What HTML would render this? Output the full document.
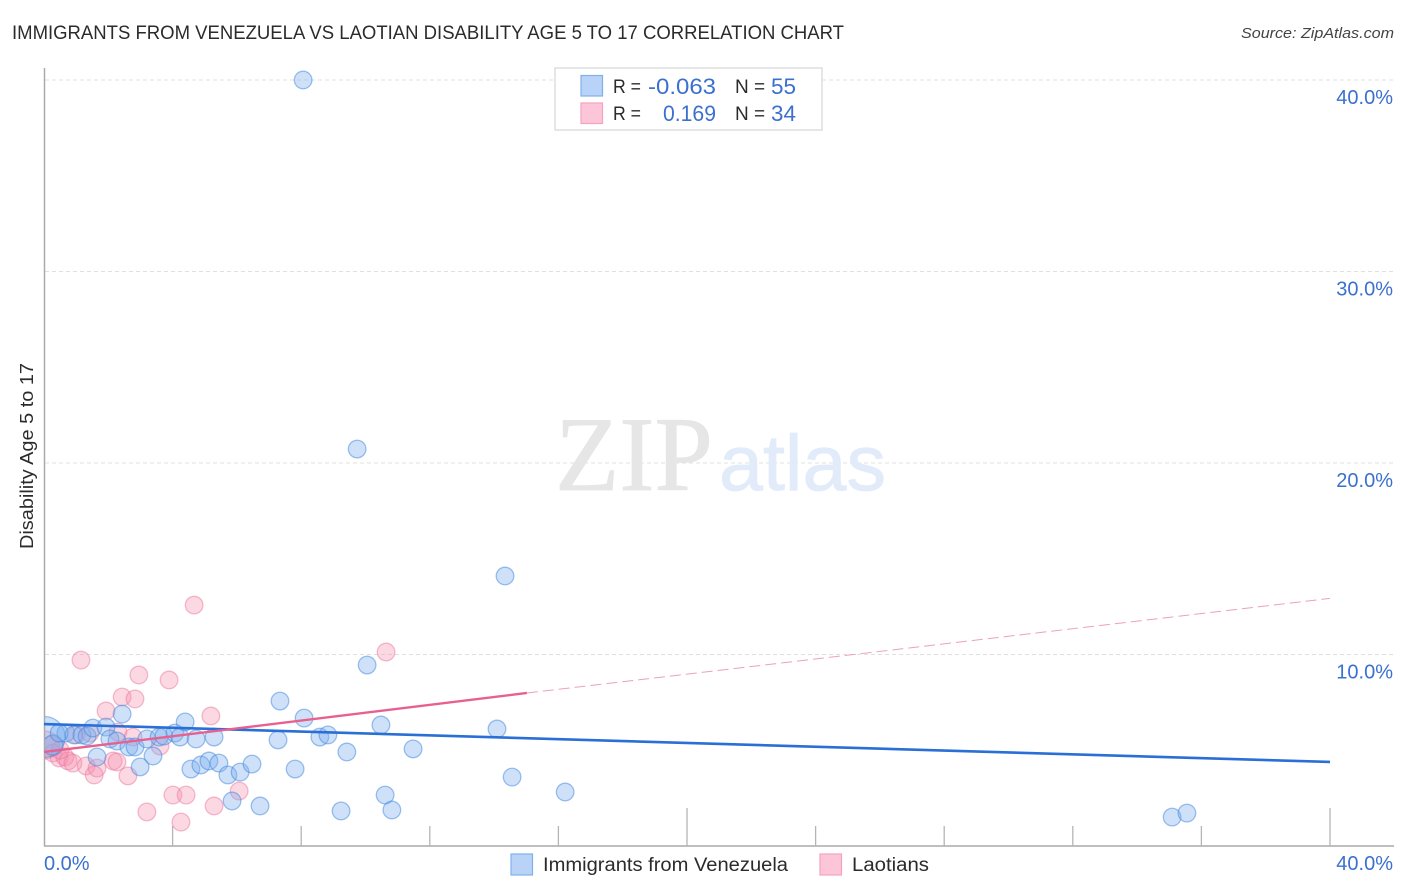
<!DOCTYPE html>
<html lang="en">
<head>
<meta charset="utf-8">
<title>Immigrants from Venezuela vs Laotian Disability Age 5 to 17 Correlation Chart</title>
<style>
html,body{margin:0;padding:0;background:#fff;width:1406px;height:892px;overflow:hidden}
svg{display:block}
text{font-family:"Liberation Sans",sans-serif}
</style>
</head>
<body>
<svg id="chart" width="1406" height="892" viewBox="0 0 1406 892" xmlns="http://www.w3.org/2000/svg">
  <defs>
    <clipPath id="plot-clip"><rect x="45" y="60" width="1349" height="786"/></clipPath>
  </defs>
  <rect x="0" y="0" width="1406" height="892" fill="#ffffff"/>
  <text x="12" y="39" font-size="19" fill="#2b2b2b" textLength="832" lengthAdjust="spacingAndGlyphs">IMMIGRANTS FROM VENEZUELA VS LAOTIAN DISABILITY AGE 5 TO 17 CORRELATION CHART</text>
  <text x="1241" y="38" font-size="15" font-style="italic" fill="#444" textLength="153" lengthAdjust="spacingAndGlyphs">Source: ZipAtlas.com</text>

  <g id="grid-layer"></g>

  <g>
    <text x="555" y="490" font-size="106" fill="#e6e6e6" stroke="#e6e6e6" stroke-width="0.8" style="font-family:'Liberation Serif',serif" textLength="158" lengthAdjust="spacingAndGlyphs">ZIP</text>
    <text x="719" y="490" font-size="79" fill="#e2ebf9" stroke="#e2ebf9" stroke-width="0.8" textLength="167" lengthAdjust="spacingAndGlyphs">atlas</text>
  </g>

  <g id="axis-layer">
    <line x1="44.5" y1="68" x2="44.5" y2="846" stroke="#aaaaaa" stroke-width="1.5"/>
    <line x1="44" y1="846" x2="1394" y2="846" stroke="#aaaaaa" stroke-width="1.5"/>
  </g>

  <g id="pink-points" clip-path="url(#plot-clip)"></g>
  <g id="blue-points" clip-path="url(#plot-clip)"></g>
  <g id="trend-layer"></g>
  <g id="label-layer"></g>

  <text transform="translate(33,456) rotate(-90)" text-anchor="middle" font-size="18" fill="#2b2b2b" textLength="186" lengthAdjust="spacingAndGlyphs">Disability Age 5 to 17</text>

  <g>
    <rect x="555" y="68" width="267" height="62" fill="#ffffff" stroke="#dddddd" stroke-width="1.5"/>
    <rect x="581" y="75.5" width="21.5" height="20.5" fill="#b8d3f7" stroke="#7fb0ea" stroke-width="1.2"/>
    <rect x="581" y="103" width="21.5" height="20.5" fill="#fcc6d8" stroke="#f4a3bd" stroke-width="1.2"/>
    <text x="613" y="93" font-size="19" fill="#2b2b2b" textLength="28" lengthAdjust="spacingAndGlyphs">R =</text>
    <text x="716" y="94" font-size="22" fill="#3b70cf" text-anchor="end" textLength="68" lengthAdjust="spacingAndGlyphs">-0.063</text>
    <text x="735" y="93" font-size="19" fill="#2b2b2b">N =</text>
    <text x="771" y="94" font-size="22" fill="#3b70cf" textLength="25" lengthAdjust="spacingAndGlyphs">55</text>
    <text x="613" y="120" font-size="19" fill="#2b2b2b" textLength="28" lengthAdjust="spacingAndGlyphs">R =</text>
    <text x="716" y="121" font-size="22" fill="#3b70cf" text-anchor="end" textLength="53" lengthAdjust="spacingAndGlyphs">0.169</text>
    <text x="735" y="120" font-size="19" fill="#2b2b2b">N =</text>
    <text x="771" y="121" font-size="22" fill="#3b70cf" textLength="25" lengthAdjust="spacingAndGlyphs">34</text>
  </g>

  <g>
    <g>
      <rect x="511" y="854" width="21.5" height="21" fill="#b8d3f7" stroke="#7fb0ea" stroke-width="1.2"/>
      <text x="543" y="871" font-size="19" fill="#2b2b2b" textLength="245" lengthAdjust="spacingAndGlyphs">Immigrants from Venezuela</text>
    </g>
    <g>
      <rect x="820" y="854" width="21.5" height="21" fill="#fcc6d8" stroke="#f4a3bd" stroke-width="1.2"/>
      <text x="852" y="871" font-size="19" fill="#2b2b2b" textLength="77" lengthAdjust="spacingAndGlyphs">Laotians</text>
    </g>
  </g>
</svg>

<script>
// Chart data (percent values)
const yTickValues = [10, 20, 30, 40];
const yTickLabels = ["10.0%", "20.0%", "30.0%", "40.0%"];
const xTickValues = [4, 8, 12, 16, 20, 24, 28, 32, 36, 40];
const xMajorTicks = [20, 40];
const xEndValues = [0, 40];
const xEndLabels = ["0.0%", "40.0%"];

const venezuelaX = [0.02,0.28,0.68,0.47,0.93,1.18,1.34,1.52,1.93,2.05,2.27,2.43,2.64,2.83,1.65,2.99,3.20,3.39,3.58,3.73,4.07,4.23,4.39,4.73,5.29,4.57,4.88,5.13,5.44,5.72,6.10,6.47,5.85,6.72,7.34,8.09,7.28,8.58,8.83,7.81,9.42,9.24,10.48,14.09,11.48,14.56,16.21,10.61,10.82,35.09,35.55,10.05,9.74,14.34,8.06];
const venezuelaY = [5.69,5.27,5.90,5.90,5.80,5.80,5.74,6.16,6.21,5.59,5.48,6.89,5.17,5.17,4.65,4.13,5.59,4.70,5.69,5.74,5.90,5.69,6.48,5.59,5.69,4.02,4.23,4.44,4.33,3.71,3.86,4.28,2.35,2.09,7.57,6.68,5.54,5.69,5.80,4.02,4.91,1.83,6.32,6.11,5.07,3.60,2.82,2.66,1.88,1.51,1.72,9.45,20.73,14.10,40.00];
const venezuelaWeight = [5.4,1.3,1,1,1,1,1,1,1,1,1,1,1,1,1,1,1,1,1,1,1,1,1,1,1,1,1,1,1,1,1,1,1,1,1,1,1,1,1,1,1,1,1,1,1,1,1,1,1,1,1,1,1,1,1];

const laotiansX = [0.05,0.25,0.28,0.47,0.65,0.75,0.90,1.31,1.65,1.56,2.15,2.27,2.61,1.00,1.43,2.30,2.77,3.61,1.15,2.95,3.89,2.43,2.83,1.93,5.19,4.67,10.64,4.01,4.42,3.20,4.26,5.29,6.07,0.50];
const laotiansY = [5.27,5.22,4.86,4.60,4.65,4.44,4.33,4.18,4.07,3.71,4.44,4.39,3.66,5.80,5.90,5.95,5.69,5.22,9.71,8.93,8.67,7.78,7.68,7.05,6.79,12.58,10.13,2.66,2.66,1.78,1.25,2.09,2.87,5.01];
const laotiansWeight = [2.5,1.3,1,1,1,1,1,1,1,1,1,1,1,1,1,1,1,1,1,1,1,1,1,1,1,1,1,1,1,1,1,1,1,1];

const venezuelaTrendX = [0, 40];
const venezuelaTrendY = [6.37, 4.39];
const laotiansSolidX = [0, 15.02];
const laotiansSolidY = [4.91, 7.99];
const laotiansDashX = [15.02, 40];
const laotiansDashY = [7.99, 12.93];

// Axis functions
const X0 = 44, X40 = 1330, Y0 = 846, Y40 = 80;
function xScale(v) { return X0 + (v / 40) * (X40 - X0); }
function yScale(v) { return Y0 - (v / 40) * (Y0 - Y40); }

const NS = "http://www.w3.org/2000/svg";
function make(tag, parent, attrs) {
  const el = document.createElementNS(NS, tag);
  for (const k in attrs) el.setAttribute(k, attrs[k]);
  parent.appendChild(el);
  return el;
}

const gridLayer = document.getElementById("grid-layer");
const axisLayer = document.getElementById("axis-layer");
const labelLayer = document.getElementById("label-layer");
const trendLayer = document.getElementById("trend-layer");

yTickValues.forEach(function (v, i) {
  const line = make("line", gridLayer, { x1: 45, x2: 1394, y1: yScale(v), y2: yScale(v), stroke: "#e0e0e0", "stroke-width": 1, "stroke-dasharray": "4 3" });
  
  
  const label = make("text", labelLayer, { x: 1393, y: yScale(v) + 24, "text-anchor": "end", "font-size": 20, fill: "#3b70cf" });
  label.textContent = yTickLabels[i];
  
  
});

xTickValues.forEach(function (v) {
  const isMajor = xMajorTicks.indexOf(v) >= 0;
  const tick = make("line", axisLayer, { x1: xScale(v), x2: xScale(v), y1: isMajor ? 808 : 826, y2: 846, stroke: "#b5b5b5", "stroke-width": 1.3 });
  
  
});

xEndValues.forEach(function (v, i) {
  const label = make("text", labelLayer, { x: i === 0 ? xScale(v) : 1393, y: 870, "text-anchor": i === 0 ? "start" : "end", "font-size": 20, fill: "#3b70cf" });
  label.textContent = xEndLabels[i];
  
  
});

function drawPoints(groupId, xs, ys, weights, fill, stroke, fillOpacity) {
  const group = document.getElementById(groupId);
  xs.forEach(function (x, i) {
    const r = 8.8 * Math.sqrt(weights[i]);
    const dot = make("circle", group, { cx: xScale(x), cy: yScale(ys[i]), r: r, fill: fill, "fill-opacity": fillOpacity, stroke: stroke, "stroke-opacity": 0.5, "stroke-width": 1.3 });
    
    
  });
}
drawPoints("pink-points", laotiansX, laotiansY, laotiansWeight, "#f58fb0", "#ea7a9f", 0.35);
drawPoints("blue-points", venezuelaX, venezuelaY, venezuelaWeight, "#7fb0ee", "#3f86dc", 0.38);

const blueTrend = make("line", trendLayer, { x1: xScale(venezuelaTrendX[0]), y1: yScale(venezuelaTrendY[0]), x2: xScale(venezuelaTrendX[1]), y2: yScale(venezuelaTrendY[1]), stroke: "#2a6fd6", "stroke-width": 2.6 });



const pinkSolid = make("line", trendLayer, { x1: xScale(laotiansSolidX[0]), y1: yScale(laotiansSolidY[0]), x2: xScale(laotiansSolidX[1]), y2: yScale(laotiansSolidY[1]), stroke: "#e8608f", "stroke-width": 2.4 });



const pinkDash = make("line", trendLayer, { x1: xScale(laotiansDashX[0]), y1: yScale(laotiansDashY[0]), x2: xScale(laotiansDashX[1]), y2: yScale(laotiansDashY[1]), stroke: "#eda0ba", "stroke-width": 1, "stroke-dasharray": "11 5" });


</script>
</body>
</html>
